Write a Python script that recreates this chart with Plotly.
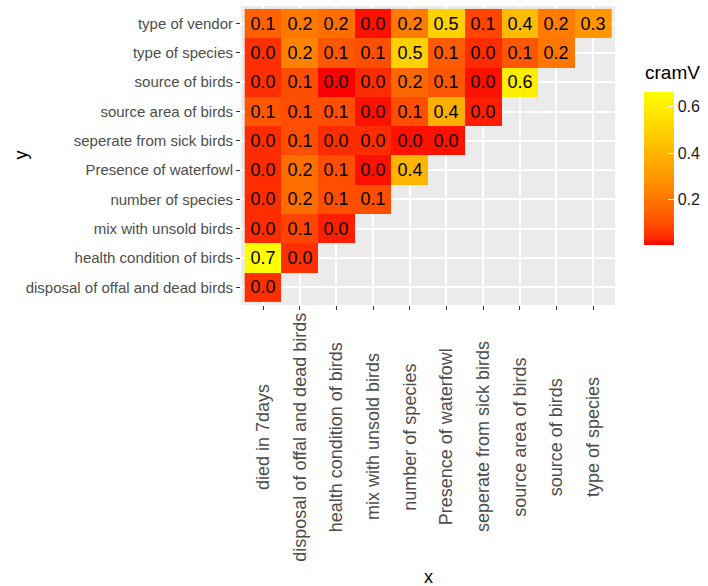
import numpy as np
import plotly.graph_objects as go

x_cats = ["died in 7days", "disposal of offal and dead birds", "health condition of birds",
          "mix with unsold birds", "number of species", "Presence of waterfowl",
          "seperate from sick birds", "source area of birds", "source of birds", "type of species"]
y_cats = ["disposal of offal and dead birds", "health condition of birds", "mix with unsold birds",
          "number of species", "Presence of waterfowl", "seperate from sick birds",
          "source area of birds", "source of birds", "type of species", "type of vendor"]

row_disposal = [0.045]
row_health = [0.664, 0.045]
row_mix = [0.04, 0.08, 0.03]
row_number = [0.04, 0.17, 0.10, 0.10]
row_presence = [0.04, 0.18, 0.10, 0.02, 0.40]
row_seperate = [0.04, 0.10, 0.04, 0.04, 0.02, 0.02]
row_source_area = [0.12, 0.10, 0.10, 0.02, 0.10, 0.38, 0.03]
row_source_birds = [0.045, 0.10, 0.007, 0.04, 0.16, 0.12, 0.02, 0.60]
row_type_species = [0.045, 0.24, 0.12, 0.10, 0.50, 0.13, 0.04, 0.12, 0.20]
row_type_vendor = [0.14, 0.21, 0.18, 0.02, 0.22, 0.50, 0.08, 0.42, 0.22, 0.30]

rows = [row_disposal, row_health, row_mix, row_number, row_presence, row_seperate,
        row_source_area, row_source_birds, row_type_species, row_type_vendor]
z = [r + [None] * (len(x_cats) - len(r)) for r in rows]

vals = [v for r in rows for v in r]
zmin, zmax = min(vals), max(vals)

# ggplot-like red->yellow gradient interpolated in CIELAB
def srgb_to_lab(rgb):
    c = np.array(rgb) / 255.0
    c = np.where(c > 0.04045, ((c + 0.055) / 1.055) ** 2.4, c / 12.92)
    M = np.array([[0.4124, 0.3576, 0.1805], [0.2126, 0.7152, 0.0722], [0.0193, 0.1192, 0.9505]])
    xyz = M @ c
    xyz = xyz / np.array([0.95047, 1.0, 1.08883])
    f = np.where(xyz > 0.008856, np.cbrt(xyz), 7.787 * xyz + 16 / 116)
    return np.array([116 * f[1] - 16, 500 * (f[0] - f[1]), 200 * (f[1] - f[2])])

def lab_to_srgb(lab):
    L, a, b = lab
    fy = (L + 16) / 116
    fx = fy + a / 500
    fz = fy - b / 200
    f = np.array([fx, fy, fz])
    xyz = np.where(f ** 3 > 0.008856, f ** 3, (f - 16 / 116) / 7.787)
    xyz = xyz * np.array([0.95047, 1.0, 1.08883])
    Minv = np.array([[3.2406, -1.5372, -0.4986], [-0.9689, 1.8758, 0.0415], [0.0557, -0.2040, 1.0570]])
    c = Minv @ xyz
    c = np.where(c > 0.0031308, 1.055 * np.abs(c) ** (1 / 2.4) - 0.055, 12.92 * c)
    c = np.clip(c, 0, 1) * 255
    return "rgb(%d,%d,%d)" % tuple(np.round(c).astype(int))

lab_lo = srgb_to_lab([255, 0, 0])
lab_hi = srgb_to_lab([255, 255, 0])
colorscale = [[t, lab_to_srgb(lab_lo + (lab_hi - lab_lo) * t)] for t in np.linspace(0, 1, 21)]

L, R, T, B = 241, 93, 6, 281
W, H = 708, 586
pw, ph = W - L - R, H - T - B

def px_x(px):
    return (px - L) / pw

def px_y(py):
    return (H - B - py) / ph

fig = go.Figure(go.Heatmap(
    x=x_cats, y=y_cats, z=z, zmin=zmin, zmax=zmax,
    colorscale=colorscale, xgap=0, ygap=0, hoverongaps=False,
    texttemplate="%{z:.1f}", textfont=dict(size=18, color="black", family="Liberation Sans, Arial"),
    colorbar=dict(
        x=px_x(644), xanchor="left", y=px_y(91.7), yanchor="top",
        thickness=30, thicknessmode="pixels", len=153, lenmode="pixels",
        xpad=0, ypad=0, outlinewidth=0,
        tickvals=[0.2, 0.4, 0.6], ticktext=["0.2", "0.4", "0.6"],
        ticks="inside", ticklen=6, tickcolor="white", tickwidth=1,
        tickfont=dict(size=16, color="#1A1A1A"),
    ),
))

# x tick labels: rotated 90 degrees and vertically centred (ggplot hjust = 0.5)
xlabel_annotations = [
    dict(text=c, xref="x", yref="paper", x=c, y=px_y(437), textangle=-90,
         showarrow=False, font=dict(size=18, color="#4D4D4D"),
         xanchor="center", yanchor="middle")
    for c in x_cats
]

fig.update_layout(
    width=W, height=H,
    margin=dict(l=L, r=R, t=T, b=B, autoexpand=False),
    paper_bgcolor="white", plot_bgcolor="#EBEBEB",
    font=dict(family="Liberation Sans, Arial, sans-serif"),
    xaxis=dict(type="category", categoryorder="array", categoryarray=x_cats, automargin=False,
               range=[-0.6, len(x_cats) - 0.4], showgrid=True, gridcolor="white", gridwidth=1.5,
               showticklabels=False,
               ticks="outside", ticklen=4, tickcolor="#333333", zeroline=False, showline=False),
    yaxis=dict(type="category", categoryorder="array", categoryarray=y_cats, automargin=False,
               range=[-0.6, len(y_cats) - 0.4], showgrid=True, gridcolor="white", gridwidth=1.5,
               tickfont=dict(size=15, color="#4D4D4D"),
               ticks="outside", ticklen=4, tickcolor="#333333", zeroline=False, showline=False),
    annotations=xlabel_annotations + [
        dict(text="x", xref="paper", yref="paper", x=0.5, y=px_y(577),
             showarrow=False, font=dict(size=18, color="black"), yanchor="middle"),
        dict(text="y", xref="paper", yref="paper", x=px_x(20), y=0.5, textangle=-90,
             showarrow=False, font=dict(size=18, color="black"), xanchor="center"),
        dict(text="cramV", xref="paper", yref="paper", x=px_x(643), y=px_y(73),
             showarrow=False, font=dict(size=19, color="black"), xanchor="left", yanchor="middle"),
    ],
)

fig.write_html("out.html", config={"displayModeBar": False},
               post_script="document.body.style.margin='0px';document.body.style.overflow='hidden';")
